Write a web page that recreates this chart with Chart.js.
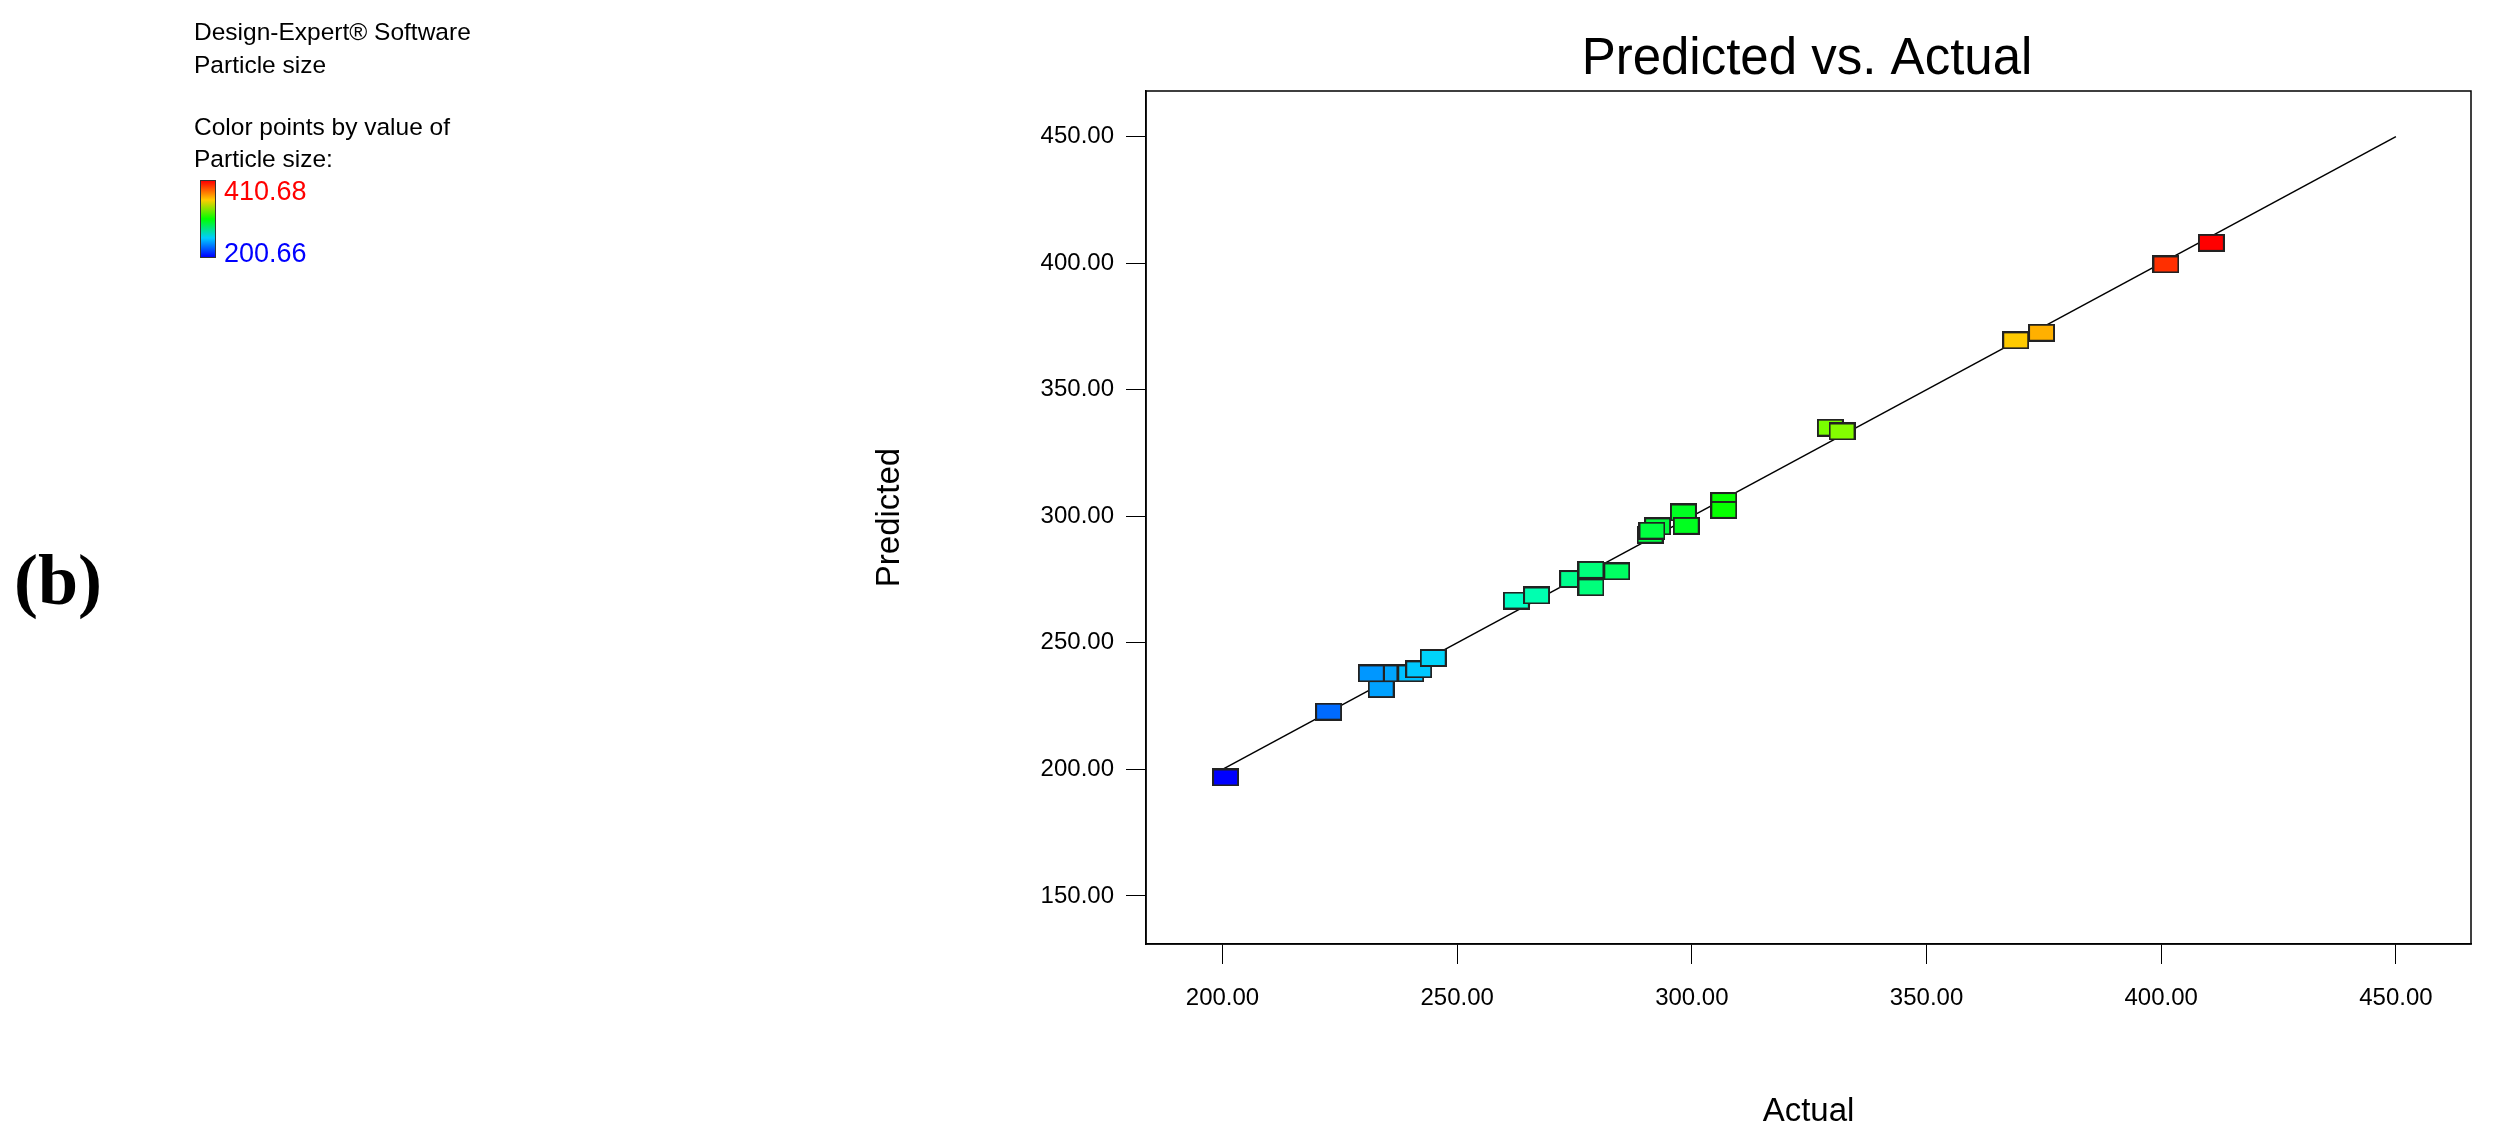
<!DOCTYPE html>
<html><head><meta charset="utf-8">
<script src="https://cdn.jsdelivr.net/npm/chart.js@4"></script>
<style>
html,body{margin:0;padding:0;background:#fff;}
#wrap{position:relative;width:2496px;height:1140px;font-family:"Liberation Sans",Arial,sans-serif;}
canvas{position:absolute;left:0;top:0;}
.t{position:absolute;font-size:24.5px;line-height:24px;white-space:nowrap;color:#000;}
#cbar{position:absolute;left:200px;top:180px;width:14px;height:76px;border:1px solid #333;
background:linear-gradient(#ff0000,#ffcc00,#00ff00,#00ccff,#0000ff);}
</style></head><body>
<div id="wrap">
<canvas id="c" width="2496" height="1140"></canvas>
<div class="t" style="left:194px;top:20px">Design-Expert® Software</div>
<div class="t" style="left:194px;top:53px">Particle size</div>
<div class="t" style="left:194px;top:115px">Color points by value of</div>
<div class="t" style="left:194px;top:147px">Particle size:</div>
<div id="cbar"></div>
<div class="t" style="left:224px;top:178px;color:#ff0000;font-size:27px;line-height:26px">410.68</div>
<div class="t" style="left:224px;top:240px;color:#0000ff;font-size:27px;line-height:26px">200.66</div>
<div class="t" style="left:14px;top:540px;font-family:'Liberation Serif',serif;font-weight:bold;font-size:72px;line-height:80px">(b)</div>
</div>
<script>
const actual = [200.66,222.6,233.8,234.6,231.7,240.1,241.8,244.9,262.6,266.9,274.6,278.5,278.5,284.0,291.1,292.7,291.5,298.2,298.8,306.8,306.8,329.5,332.0,369.0,374.5,401.0,410.68];
const predicted = [196.8,222.8,231.7,237.9,237.9,237.9,239.5,244.0,266.7,268.7,275.2,278.8,271.9,278.2,292.7,296.0,294.3,301.5,296.2,306.0,302.5,335.0,333.5,369.5,372.5,399.5,408.0];
const lineX = [200, 450];
const lineY = [200, 450];
const tickValues = [150,200,250,300,350,400,450];
const minV = 200.66, maxV = 410.68;

const stops = [[0,[0,0,255]],[0.1,[0,102,255]],[0.2,[0,204,255]],[0.28,[0,255,210]],[0.5,[0,255,0]],[0.62,[128,255,0]],[0.8,[255,204,0]],[0.95,[255,51,0]],[1,[255,0,0]]];
function colorFor(v){
  let t=(v-minV)/(maxV-minV); t=Math.max(0,Math.min(1,t));
  for(let i=1;i<stops.length;i++){
    if(t<=stops[i][0]){const a=stops[i-1],b=stops[i];const f=(t-a[0])/(b[0]-a[0]);
      const c=a[1].map((x,k)=>Math.round(x+(b[1][k]-x)*f));return `rgb(${c.join(',')})`;}
  }
  return 'rgb(255,0,0)';
}
function marker(col){
  const c=document.createElement('canvas');c.width=27;c.height=18;
  const g=c.getContext('2d');g.fillStyle=col;g.fillRect(1,1,25,16);
  g.strokeStyle='#222';g.lineWidth=2;g.strokeRect(1,1,25,16);return c;
}
const pts = actual.map((a,i)=>({x:a,y:predicted[i]}));
const styles = actual.map(a=>marker(colorFor(a)));

const frame={id:'frame',afterDatasetsDraw(ch){const a=ch.chartArea,g=ch.ctx;g.save();g.strokeStyle='#000';g.lineWidth=1.5;
  g.strokeRect(a.left,a.top,a.right-a.left,a.bottom-a.top);
  g.fillStyle='#000';g.font='51px "Liberation Sans",Arial';g.textAlign='center';g.textBaseline='middle';
  g.fillText('Predicted vs. Actual',1807,60);g.restore();}};

new Chart(document.getElementById('c'),{
  type:'scatter',
  data:{datasets:[
    {type:'line',data:lineX.map((x,i)=>({x:x,y:lineY[i]})),borderColor:'#000',borderWidth:1.5,pointRadius:0,order:2},
    {data:pts,pointStyle:styles,pointRadius:10,order:1}
  ]},
  options:{responsive:false,animation:false,devicePixelRatio:1,
    layout:{padding:{left:870,top:91,right:25,bottom:8}},
    plugins:{legend:{display:false},tooltip:{enabled:false}},
    scales:{
      x:{type:'linear',min:183.7,max:466,
        afterBuildTicks(s){s.ticks=tickValues.filter(v=>v>=200).map(v=>({value:v}));},
        afterFit(s){s.height=188;},
        grid:{drawOnChartArea:false,drawTicks:true,tickLength:20,color:'#000'},
        border:{color:'#000',width:1.5},
        ticks:{color:'#000',font:{size:24,family:'"Liberation Sans",Arial'},padding:20,callback:v=>v.toFixed(2)},
        title:{display:true,text:'Actual',color:'#000',font:{size:33,family:'"Liberation Sans",Arial'},padding:0}},
      y:{type:'linear',min:131,max:468,
        afterBuildTicks(s){s.ticks=tickValues.map(v=>({value:v}));},
        afterFit(s){s.width=276;},
        grid:{drawOnChartArea:false,drawTicks:true,tickLength:20,color:'#000'},
        border:{color:'#000',width:1.5},
        ticks:{color:'#000',font:{size:24,family:'"Liberation Sans",Arial'},padding:12,callback:v=>v.toFixed(2)},
        title:{display:true,text:'Predicted',color:'#000',font:{size:33,family:'"Liberation Sans",Arial'},padding:{top:0,bottom:0}}}
    }},
  plugins:[frame]
});
</script></body></html>
